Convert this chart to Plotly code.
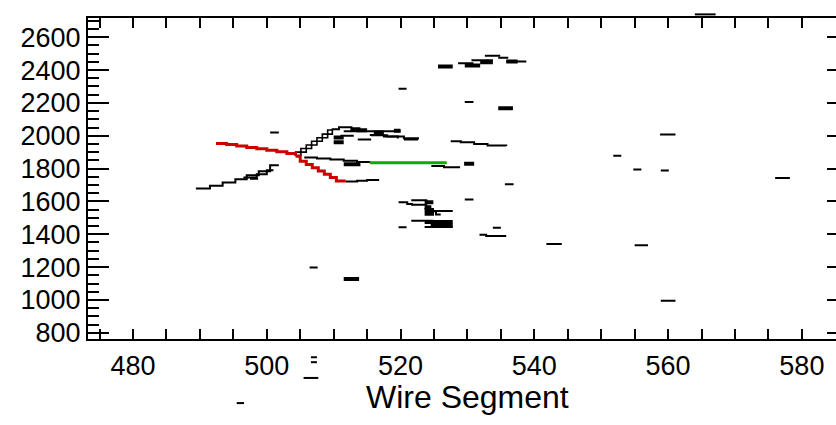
import plotly.graph_objects as go

# ---------------- data ----------------
# isolated hits: start wire, end wire, time value
hit_x0 = [500.5, 519.7, 529.6, 528.6, 530.6, 532.6, 534.6, 535.8, 535.6, 558.8, 551.8, 554.8,
          558.9, 576.0, 529.6, 519.7, 533.8, 541.8, 555.0, 558.9, 506.4, 497.5, 513.6, 511.5,
          521.6, 521.7, 524.9, 521.6, 523.6, 520.5, 511.0]
hit_x1 = [501.8, 520.9, 530.9, 530.9, 533.8, 534.9, 536.1, 538.8, 536.9, 561.1, 553.0, 556.0,
          560.1, 578.2, 530.9, 520.9, 535.0, 544.1, 557.0, 561.1, 507.6, 498.7, 515.6, 520.0,
          524.0, 524.0, 527.8, 524.9, 527.8, 522.6, 513.0]
hit_y = [2019, 2286, 2206, 2441, 2460, 2487, 2475, 2452, 1705, 2007, 1878, 1795,
         1789, 1743, 1611, 1443, 1440, 1341, 1333, 995, 1198, 1738, 1977, 2027,
         1607, 1580, 1542, 1482, 1445, 1977, 2000]

# double-width hits
thick_x0 = [534.6, 525.6, 529.6, 531.9, 535.8, 511.5, 513.4, 516.0, 510.0, 510.0, 511.5,
            523.6, 523.6, 523.6, 523.6, 524.5, 523.6, 519.0, 512.5, 529.5]
thick_x1 = [536.8, 527.8, 531.9, 533.8, 537.5, 513.8, 515.0, 517.5, 511.5, 511.5, 514.0,
            524.9, 525.0, 525.0, 527.8, 527.8, 524.6, 520.0, 514.0, 531.0]
thick_y = [2168, 2421, 2427, 2447, 2452, 1128, 2033, 2020, 1990, 1960, 1826,
           1595, 1548, 1525, 1475, 1455, 1565, 2030, 2040, 1830]

# hits falling outside the plotting window (drawn unclipped)
out_x0 = [564.0, 506.6, 506.6, 505.5, 495.5]
out_x1 = [567.1, 507.5, 507.5, 507.7, 496.6]
out_y = [2739, 651, 621, 525, 372]

# stepped black tracks (None separates tracks)
trk_x = [489.4, 491.5, 493.4, 495.3, 497.0, 498.8, 500.5, 501.8, None,
         496.5, 498.5, 500.0, 501.0, None,
         511.8, 513.5, 515.0, 516.8, None,
         505.6, 507.5, 509.5, 511.5, 513.5, 515.4, None,
         524.6, 526.5, 528.9, None,
         509.7, 510.8, 512.8, None,
         515.4, 517.5, 519.6, None,
         515.6, 518.0, 520.5, 522.6, None,
         527.5, 529.0, 531.0, 533.0, 535.8, None,
         519.7, 521.0, 521.7, None,
         531.8, 532.8, 535.8, None,
         523.6, 524.4, 525.3, 526.0]
trk_y = [1679, 1695, 1715, 1735, 1759, 1784, 1820, 1820, None,
         1745, 1765, 1790, 1790, None,
         1722, 1726, 1731, 1731, None,
         1868, 1862, 1855, 1848, 1840, 1838, None,
         1815, 1808, 1808, None,
         2040, 2052, 2052, None,
         2005, 1995, 1983, None,
         2003, 1995, 1985, 1977, None,
         1967, 1960, 1950, 1940, 1937, None,
         1595, 1585, 1575, None,
         1397, 1389, 1389, None,
         1555, 1540, 1520, 1520]

# chain of hit boxes rising from the vertex (drawn as both stair edges)
box_x = [504.3, 505.1, 505.9, 506.7, 507.5, 508.3, 509.1, 509.8]
box_y = [1880, 1900, 1922, 1944, 1966, 1988, 2010, 2035]

# red fitted track (two branches)
red_x = [492.4, 494.0, 495.5, 497.0, 498.5, 500.0, 501.5, 503.0, 504.3, None,
         504.3, 505.0, 505.9, 506.8, 507.7, 508.6, 509.5, 510.4, 511.8]
red_y = [1953, 1946, 1938, 1929, 1921, 1912, 1902, 1892, 1878, None,
         1875, 1845, 1825, 1805, 1785, 1765, 1745, 1725, 1725]

# green fitted track
green_x = [515.4, 526.9]
green_y = [1836, 1836]

x_range = [473.27, 585.1]
y_range = [764.2, 2719.3]
x_ticks = [480, 500, 520, 540, 560, 580]
y_ticks = [800, 1000, 1200, 1400, 1600, 1800, 2000, 2200, 2400, 2600]

# ---------------- layout geometry ----------------
W, H = 836, 425
PL, PR, PT, PB = 88, 836, 18, 346
dx0, dx1 = PL / W, PR / W
dy0, dy1 = 1 - PB / H, 1 - PT / H


def segs(x0, x1, y):
    xs, ys = [], []
    for a, b, v in zip(x0, x1, y):
        xs += [a, b, None]
        ys += [v, v, None]
    return xs, ys


fig = go.Figure()
hx, hy = segs(hit_x0, hit_x1, hit_y)
fig.add_trace(go.Scatter(x=hx, y=hy, mode="lines", line=dict(color="black", width=2),
                         hoverinfo="skip"))
tx, ty = segs(thick_x0, thick_x1, thick_y)
fig.add_trace(go.Scatter(x=tx, y=ty, mode="lines", line=dict(color="black", width=4),
                         hoverinfo="skip"))
fig.add_trace(go.Scatter(x=trk_x, y=trk_y, mode="lines", line=dict(color="black", width=2, shape="hv"),
                         hoverinfo="skip"))
fig.add_trace(go.Scatter(x=box_x, y=box_y, mode="lines", line=dict(color="black", width=1.6, shape="hv"),
                         hoverinfo="skip"))
fig.add_trace(go.Scatter(x=box_x, y=box_y, mode="lines", line=dict(color="black", width=1.6, shape="vh"),
                         hoverinfo="skip"))
fig.add_trace(go.Scatter(x=red_x, y=red_y, mode="lines", line=dict(color="#cc0000", width=3, shape="hv"),
                         hoverinfo="skip"))
fig.add_trace(go.Scatter(x=green_x, y=green_y, mode="lines", line=dict(color="#00b000", width=3),
                         hoverinfo="skip"))

# full-page axes pair (same scale) for hits outside the frame
ppx = (PR - PL) / (x_range[1] - x_range[0])
ppy = (PB - PT) / (y_range[1] - y_range[0])
x2_range = [x_range[0] - PL / ppx, x_range[1] + (W - PR) / ppx]
y2_range = [y_range[0] - (H - PB) / ppy, y_range[1] + PT / ppy]
ox, oy = segs(out_x0, out_x1, out_y)
fig.add_trace(go.Scatter(x=ox, y=oy, mode="lines", line=dict(color="black", width=2),
                         xaxis="x2", yaxis="y2", hoverinfo="skip"))
# right-hand tick marks
fig.add_trace(go.Scatter(x=[], y=[], yaxis="y3", hoverinfo="skip"))

tickfont = dict(family="Liberation Sans, Arial, sans-serif", size=27, color="black")

fig.update_layout(
    width=W, height=H, margin=dict(l=0, r=0, t=0, b=0),
    paper_bgcolor="white", plot_bgcolor="rgba(0,0,0,0)", showlegend=False,
    xaxis=dict(domain=[dx0, dx1], range=x_range, tickvals=x_ticks, ticks="inside",
               ticklen=10, tickwidth=2, tickcolor="black", showline=True, linewidth=2,
               linecolor="black", mirror="allticks", showgrid=False, zeroline=False,
               tickfont=tickfont, ticklabelstandoff=2,
               minor=dict(dtick=5, tick0=0, ticks="inside", ticklen=5, tickwidth=2,
                          tickcolor="black", showgrid=False),
               anchor="y"),
    yaxis=dict(domain=[dy0, dy1], range=y_range, tickvals=y_ticks, ticks="inside",
               ticklen=21, tickwidth=2, tickcolor="black", showline=True, linewidth=2,
               linecolor="black", mirror=False, showgrid=False, zeroline=False,
               tickfont=tickfont, ticklabelstandoff=0,
               minor=dict(dtick=50, tick0=0, ticks="inside", ticklen=11, tickwidth=2,
                          tickcolor="black", showgrid=False),
               anchor="x"),
    yaxis3=dict(overlaying="y", side="right", range=y_range, tickvals=y_ticks,
                ticks="inside", ticklen=9, tickwidth=2, tickcolor="black",
                showticklabels=False, showline=False, showgrid=False, zeroline=False),
    xaxis2=dict(domain=[0, 1], range=x2_range, visible=False, anchor="y2"),
    yaxis2=dict(domain=[0, 1], range=y2_range, visible=False, anchor="x2"),
    annotations=[dict(text="Wire Segment", x=467 / W, y=1 - 406 / H, xref="paper", yref="paper",
                      showarrow=False, xanchor="center", yanchor="middle",
                      font=dict(family="Liberation Sans, Arial, sans-serif", size=32, color="black"))],
)

fig.write_html("out.html")
